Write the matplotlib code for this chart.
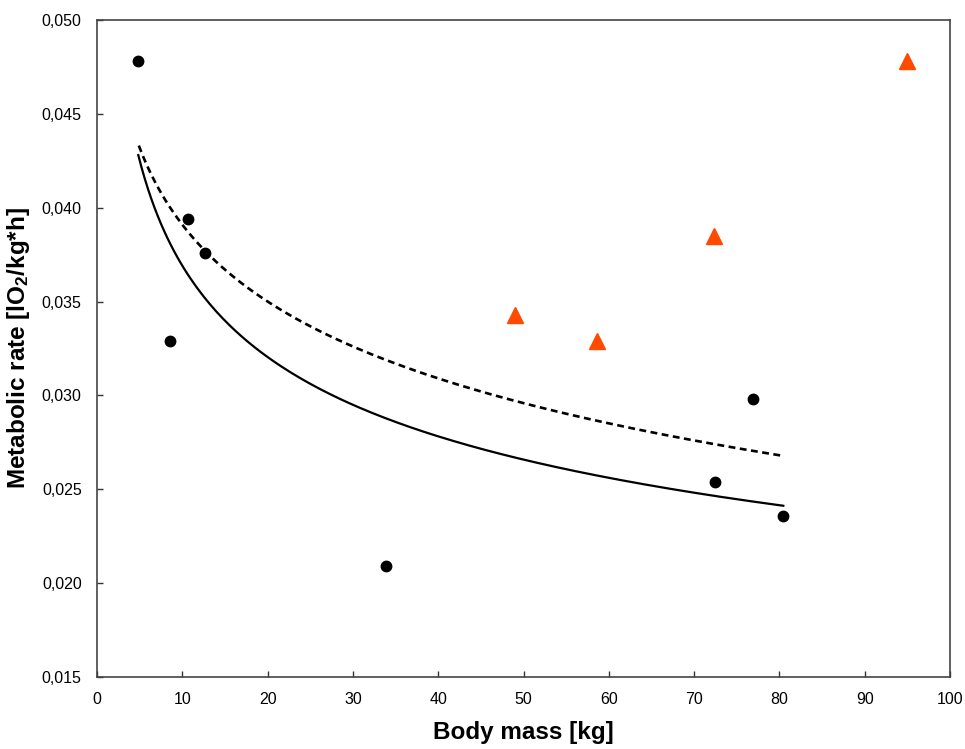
import matplotlib.pyplot as plt
import numpy as np

plt.rcParams['font.family'] = ['Liberation Sans', 'DejaVu Sans']
plt.rcParams['mathtext.fontset'] = 'custom'
plt.rcParams['mathtext.rm'] = 'Liberation Sans'
plt.rcParams['mathtext.bf'] = 'Liberation Sans:bold'
plt.rcParams['mathtext.default'] = 'regular'

# black dots
mass_a = [4.84, 8.56, 10.7, 12.66, 33.9, 72.5, 76.9, 80.46]
rate_a = [0.0478, 0.0329, 0.0394, 0.0376, 0.0209, 0.0254, 0.0298, 0.0236]

# orange triangles
mass_b = [49.0, 58.6, 72.3, 95.0]
rate_b = [0.0343, 0.0329, 0.0385, 0.0478]

# dashed trend
trend_x = [4.9, 6, 8, 10, 13, 17, 22, 30, 40, 50, 60, 70, 80.2]
trend_y = [0.0433, 0.0421, 0.0404, 0.0391, 0.0376, 0.0360, 0.0344,
           0.0326, 0.0309, 0.0296, 0.0285, 0.0276, 0.0268]

fig = plt.figure(figsize=(9.65, 7.49), dpi=100)
ax = fig.add_axes([97 / 965, 72 / 749, 853 / 965, 657 / 749])

# power trendline through the black dots
b, ln_a = np.polyfit(np.log(mass_a), np.log(rate_a), 1)
fx = np.linspace(min(mass_a), max(mass_a), 200)
ax.plot(fx, np.exp(ln_a) * fx ** b, color='black', lw=1.6)

# log trendline through the read points of the dashed curve
c1, c0 = np.polyfit(np.log(trend_x), trend_y, 1)
tx = np.linspace(min(trend_x), max(trend_x), 200)
ax.plot(tx, c0 + c1 * np.log(tx), color='black', lw=1.9, dashes=(2.6, 1.7))

ax.plot(mass_a, rate_a, 'o', color='black', ms=7.5, mec='black')
ax.plot(mass_b, rate_b, '^', color='#FF4A00', ms=12, mec='#FF4A00')

ax.set_xlim(0, 100)
ax.set_ylim(0.015, 0.050)
ax.set_xticks(np.arange(0, 101, 10))
yt = np.arange(0.015, 0.0501, 0.005)
ax.set_yticks(yt)
ax.set_yticklabels([f"{v:.3f}".replace('.', ',') for v in yt])
ax.tick_params(direction='in', length=4, width=1, color='#333333',
               labelsize=11.5, pad=11)

for s in ax.spines.values():
    s.set_color('#444444')
    s.set_linewidth(1.2)

ax.set_xlabel('Body mass [kg]', fontsize=17.5, fontweight='bold', labelpad=10)
ax.set_ylabel(r'Metabolic rate [lO$_2$/kg*h]', fontsize=17.5,
              fontweight='bold', labelpad=7)

fig.savefig('out.png', dpi=100)
